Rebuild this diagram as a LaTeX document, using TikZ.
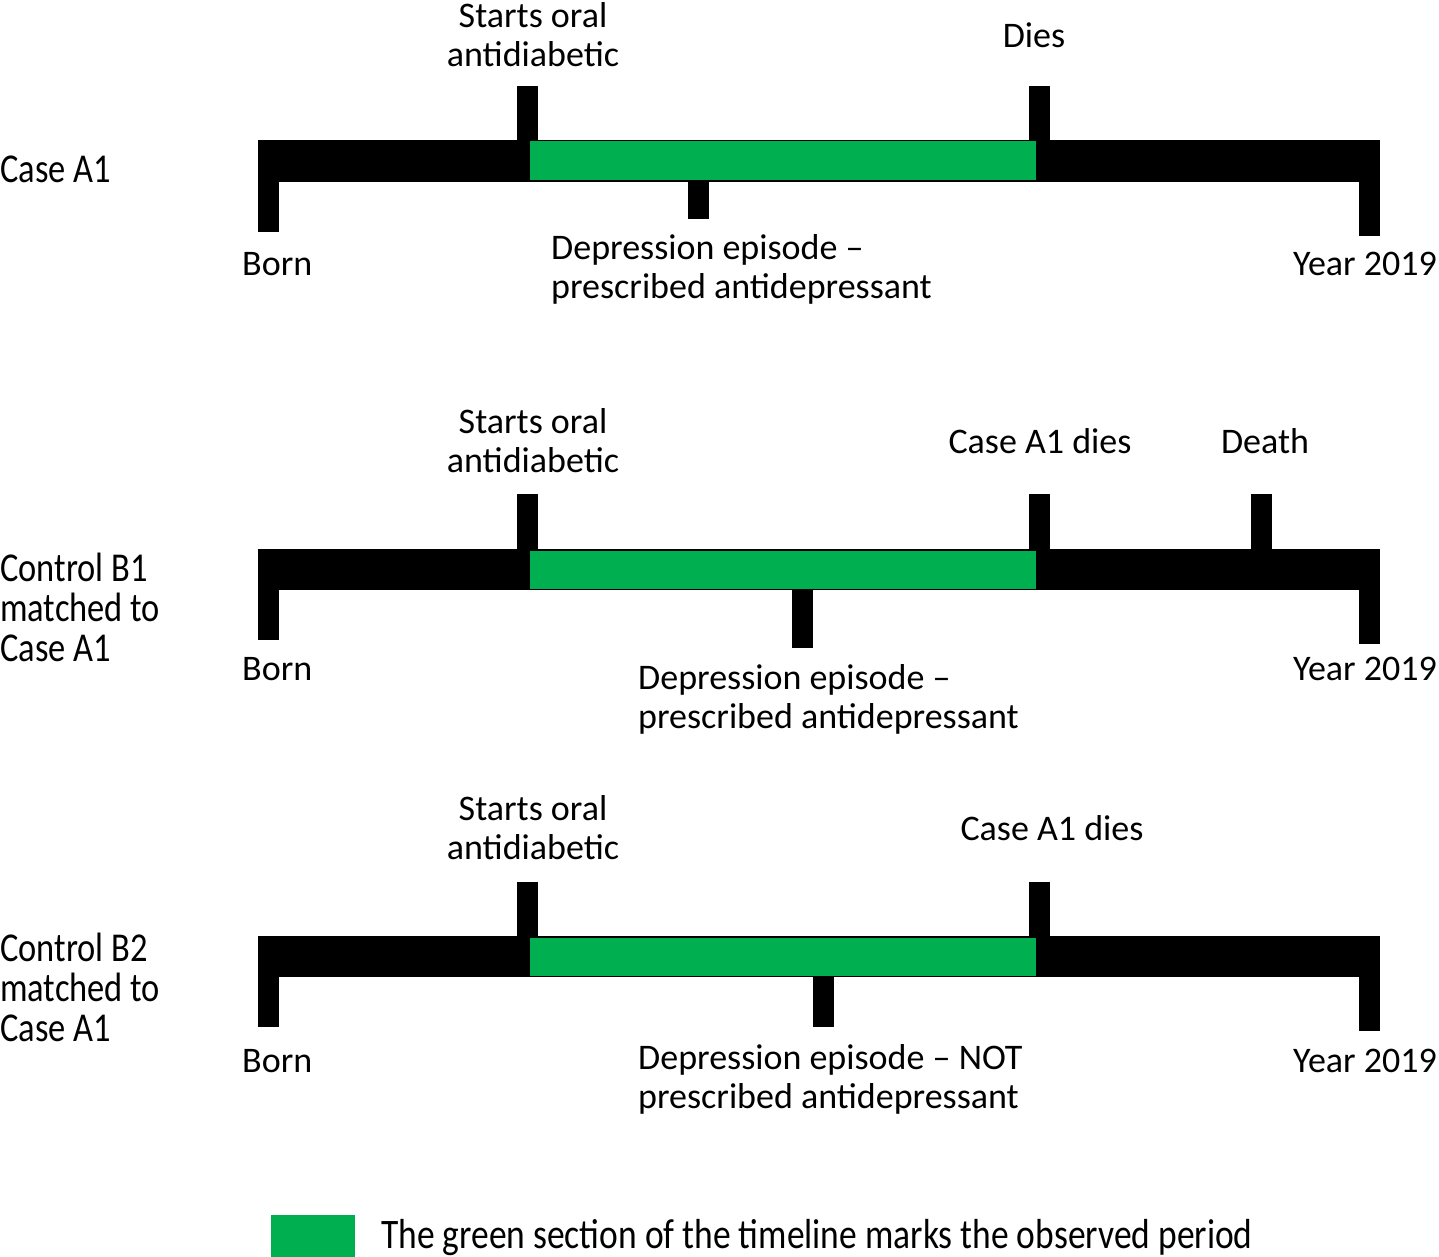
\documentclass[tikz,border=0pt]{standalone}
\usepackage{fontspec}
\setmainfont{Carlito}
\newfontfamily\rowfont[FakeStretch=0.84]{Carlito}
\newfontfamily\legfont[FakeStretch=0.845]{Carlito}
\definecolor{obsgreen}{RGB}{0,176,80}
\tikzset{
  bar/.style={fill=black},
  tickmark/.style={fill=black},
  obs/.style={fill=obsgreen},
  evt/.style={inner sep=0pt, font=\fontsize{36}{39}\selectfont},
  rowlab/.style={inner sep=0pt, anchor=base west, font=\rowfont\fontsize{41}{40}\selectfont},
  leg/.style={inner sep=0pt, anchor=base west, font=\legfont\fontsize{42}{42}\selectfont}
}
\begin{document}
\begin{tikzpicture}[x=1pt,y=-1pt]
\useasboundingbox (0,0) rectangle (1439,1257);
% ---------- Row 1 ----------
\fill[bar] (258,140) rectangle (1380,182);
\fill[tickmark] (258,182) rectangle (279,232);
\fill[tickmark] (1359,182) rectangle (1380,236);
\fill[tickmark] (517,86) rectangle (538,140);
\fill[tickmark] (1029,86) rectangle (1050,140);
\fill[tickmark] (688,182) rectangle (709,219);
\fill[obs] (530,141.5) rectangle (1036,180.5);
\node[rowlab] (r1lab) at (0,183) {Case A1};
\node[evt,anchor=base] (r1s1) at (533,28) {Starts oral};
\node[evt,anchor=base] (r1s2) at (533,67) {antidiabetic};
\node[evt,anchor=base] (r1dies) at (1034,48) {Dies};
\node[evt,anchor=base west] (r1born) at (242,275) {Born};
\node[evt,anchor=base west] (r1d1) at (551,259) {Depression episode –};
\node[evt,anchor=base west] (r1d2) at (551,298) {prescribed antidepressant};
\node[evt,anchor=base east] (r1year) at (1437,275) {Year 2019};
% ---------- Row 2 ----------
\fill[bar] (258,549) rectangle (1380,590);
\fill[tickmark] (258,590) rectangle (279,640);
\fill[tickmark] (1359,590) rectangle (1380,644);
\fill[tickmark] (517,494) rectangle (538,549);
\fill[tickmark] (1029,494) rectangle (1050,549);
\fill[tickmark] (1251,494) rectangle (1272,549);
\fill[tickmark] (792,590) rectangle (813,648);
\fill[obs] (530,550.5) rectangle (1036,588.5);
\node[rowlab] (r2l1) at (0,581) {Control B1};
\node[rowlab] (r2l2) at (0,621) {matched to};
\node[rowlab] (r2l3) at (0,661) {Case A1};
\node[evt,anchor=base] (r2s1) at (533,433) {Starts oral};
\node[evt,anchor=base] (r2s2) at (533,472) {antidiabetic};
\node[evt,anchor=base] (r2dies) at (1040,453) {Case A1 dies};
\node[evt,anchor=base] (r2death) at (1265,453) {Death};
\node[evt,anchor=base west] (r2born) at (242,680) {Born};
\node[evt,anchor=base west] (r2d1) at (638,689) {Depression episode –};
\node[evt,anchor=base west] (r2d2) at (638,728) {prescribed antidepressant};
\node[evt,anchor=base east] (r2year) at (1437,680) {Year 2019};
% ---------- Row 3 ----------
\fill[bar] (258,936) rectangle (1380,977);
\fill[tickmark] (258,977) rectangle (279,1027);
\fill[tickmark] (1359,977) rectangle (1380,1031);
\fill[tickmark] (517,882) rectangle (538,936);
\fill[tickmark] (1029,882) rectangle (1050,936);
\fill[tickmark] (813,977) rectangle (834,1027);
\fill[obs] (530,937.5) rectangle (1036,975.5);
\node[rowlab] (r3l1) at (0,961) {Control B2};
\node[rowlab] (r3l2) at (0,1001) {matched to};
\node[rowlab] (r3l3) at (0,1041) {Case A1};
\node[evt,anchor=base] (r3s1) at (533,820) {Starts oral};
\node[evt,anchor=base] (r3s2) at (533,859) {antidiabetic};
\node[evt,anchor=base] (r3dies) at (1052,840) {Case A1 dies};
\node[evt,anchor=base west] (r3born) at (242,1072) {Born};
\node[evt,anchor=base west] (r3d1) at (638,1069) {Depression episode – NOT};
\node[evt,anchor=base west] (r3d2) at (638,1108) {prescribed antidepressant};
\node[evt,anchor=base east] (r3year) at (1437,1072) {Year 2019};
% ---------- Legend ----------
\fill[obs] (271,1215) rectangle (355,1257);
\node[leg] (legtext) at (381,1248) {The green section of the timeline marks the observed period};
\end{tikzpicture}
\end{document}
